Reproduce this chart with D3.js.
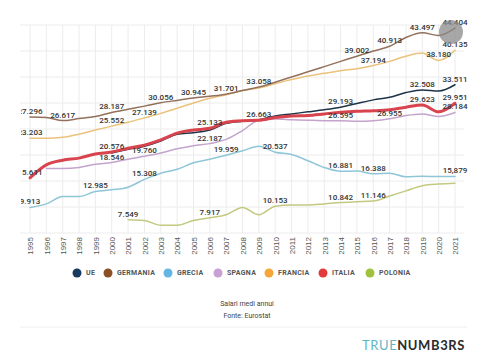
<!DOCTYPE html>
<html>
<head>
<meta charset="utf-8">
<script src="https://cdn.jsdelivr.net/npm/d3@7"></script>
<style>
	body { margin: 0; background: #fff; }
	svg { display: block; font-family: Roboto, 'Noto Sans', sans-serif; }
</style>
</head>
<body>
<div id="draw"></div>
<script>
// years on the x axis
var years = [1995, 1996, 1997, 1998, 1999, 2000, 2001, 2002, 2003, 2004, 2005, 2006, 2007,
	2008, 2009, 2010, 2011, 2012, 2013, 2014, 2015, 2016, 2017, 2018, 2019, 2020, 2021];

// average annual wages, thousands of euro (null = no data)
var ue = [null, null, null, null, null, 20.4, 21.1, 21.7, 22.7, 24.0, 24.3, 24.8, 26.1,
	26.5, 26.8, 27.5, 27.9, 28.3, 28.7, 29.193, 29.9, 30.6, 31.1, 32.0, 32.508, 32.3, 33.511];
var germania = [27.296, 27.2, 26.617, 27.0, 27.4, 28.187, 28.8, 29.4, 30.056, 30.5, 30.945, 31.3, 31.701,
	32.4, 33.058, 34.0, 35.0, 36.0, 37.0, 38.0, 39.002, 40.0, 40.913, 42.6, 43.497, 43.0, 44.404];
var grecia = [9.913, 10.6, 12.0, 12.0, 12.985, 13.3, 13.8, 15.308, 16.5, 17.25, 18.5, 19.2, 19.959,
	20.8, 21.7, 20.537, 20.1, 18.9, 17.6, 16.881, 16.9, 16.388, 16.5, 15.8, 15.9, 15.85, 15.879];
var spagna = [null, 17.4, 17.4, 17.6, 18.2, 18.546, 19.2, 19.76, 20.4, 21.2, 21.8, 22.187, 23.0,
	24.7, 26.7, 26.9, 26.8, 26.7, 26.6, 26.595, 26.5, 26.6, 26.955, 27.6, 27.9, 27.4, 28.184];
var francia = [23.203, 23.2, 23.4, 24.0, 24.8, 25.552, 26.3, 27.139, 28.0, 29.0, 30.0, 30.9, 31.6,
	32.4, 32.9, 33.7, 34.5, 35.2, 35.7, 36.2, 36.6, 37.194, 38.0, 39.0, 39.6, 38.18, 40.135];
var italia = [15.611, 18.1, 19.0, 19.4, 20.2, 20.576, 21.3, 21.9, 22.9, 24.2, 24.8, 25.133, 26.3,
	26.6, 26.663, 27.2, 27.5, 27.6, 27.9, 28.2, 28.4, 28.5, 28.7, 29.2, 29.623, 28.3, 29.951];
var polonia = [null, null, null, null, null, null, 7.549, 7.4, 6.5, 6.5, 7.4, 7.917, 8.5,
	9.9, 8.5, 10.153, 10.4, 10.4, 10.6, 10.842, 11.0, 11.146, 12.1, 13.1, 14.1, 14.4, 14.55];

// years that carry a value label
var ueLabels = [2014, 2019, 2021];
var germaniaLabels = [1995, 1997, 2000, 2003, 2005, 2007, 2009, 2015, 2017, 2019, 2021];
var greciaLabels = [1995, 1999, 2002, 2007, 2010, 2014, 2016, 2021];
var spagnaLabels = [2000, 2002, 2006, 2014, 2017, 2021];
var franciaLabels = [1995, 2000, 2002, 2016, 2020, 2021];
var italiaLabels = [1995, 2000, 2006, 2009, 2019, 2021];
var poloniaLabels = [2001, 2006, 2010, 2014, 2016];

var series = [
	{ name: 'UE', values: ue, labels: ueLabels, dot: '#173a5e', line: '#1d3348', w: 1.5 },
	{ name: 'GERMANIA', values: germania, labels: germaniaLabels, dot: '#8b4f26', line: '#93705c', w: 1.5 },
	{ name: 'GRECIA', values: grecia, labels: greciaLabels, dot: '#63b6e3', line: '#8ec6d8', w: 1.5 },
	{ name: 'SPAGNA', values: spagna, labels: spagnaLabels, dot: '#c8a0d4', line: '#c4a3cc', w: 1.5 },
	{ name: 'FRANCIA', values: francia, labels: franciaLabels, dot: '#f6a53b', line: '#ebc27c', w: 1.5 },
	{ name: 'ITALIA', values: italia, labels: italiaLabels, dot: '#e03c3c', line: '#d9434d', w: 3 },
	{ name: 'POLONIA', values: polonia, labels: poloniaLabels, dot: '#9fc13c', line: '#c3c981', w: 1.5 },
];
// drawing order: italy on top of the EU line
var drawOrder = ['POLONIA', 'GRECIA', 'SPAGNA', 'FRANCIA', 'GERMANIA', 'UE', 'ITALIA'];

var gridValues = [5, 10, 15, 20, 25, 30, 35, 40, 45];

var width = 480,
	height = 362;

var svg = d3
	.select('#draw')
	.append('svg')
	.attr('width', width)
	.attr('height', height);

var x = d3.scalePoint().domain(years).range([30, 455]);
var y = d3.scaleLinear().domain([5, 45]).range([233, 25]);

// clip so that the first labels get cut at the left edge like the original
svg
	.append('clipPath')
	.attr('id', 'plotclip')
	.append('rect')
	.attr('x', 21)
	.attr('y', 0)
	.attr('width', 459)
	.attr('height', 240);

// grid
var grid = svg.append('g');
grid
	.selectAll('.vg')
	.data(years)
	.enter()
	.append('line')
	.attr('x1', (d) => x(d))
	.attr('x2', (d) => x(d))
	.attr('y1', y(45))
	.attr('y2', y(5))
	.attr('stroke', '#ececec');
grid
	.selectAll('.hg')
	.data(gridValues)
	.enter()
	.append('line')
	.attr('x1', 20)
	.attr('x2', 464)
	.attr('y1', (d) => y(d))
	.attr('y2', (d) => y(d))
	.attr('stroke', '#ececec');

// x axis with rotated years
var xAxis = svg
	.append('g')
	.attr('transform', 'translate(0,' + y(5) + ')')
	.call(d3.axisBottom(x).tickSize(0));
xAxis.select('.domain').remove();
xAxis
	.selectAll('text')
	.attr('transform', 'rotate(-90)')
	.attr('x', -4)
	.attr('y', 0)
	.attr('dy', '0.35em')
	.style('text-anchor', 'end')
	.style('font-size', '8px')
	.style('fill', '#555');

// lines
var line = d3
	.line()
	.defined((d) => d.v != null)
	.x((d) => x(d.year))
	.y((d) => y(d.v))
	.curve(d3.curveMonotoneX);

var points = (s) => years.map((yr, i) => ({ year: yr, v: s.values[i] }));

drawOrder.forEach(function (name) {
	var s = series.find((d) => d.name === name);
	svg
		.append('path')
		.datum(points(s))
		.attr('fill', 'none')
		.attr('stroke', s.line)
		.attr('stroke-width', s.w)
		.attr('stroke-linejoin', 'round')
		.attr('stroke-linecap', 'round')
		.attr('d', line);
});

// value labels, italian number format
var it = d3.formatLocale({ decimal: ',', thousands: '.', grouping: [3], currency: ['€', ''] });
var fmt = it.format(',.0f');
var labelText = function (s, v) {
	var t = fmt(v * 1000);
	// the original shows this one with a comma
	if (s.name === 'GRECIA' && v === 15.879) t = '15,879';
	return t;
};

var labels = svg.append('g').attr('clip-path', 'url(#plotclip)');
series.forEach(function (s) {
	labels
		.selectAll(null)
		.data(s.labels)
		.enter()
		.append('text')
		.attr('x', (yr) => x(yr))
		.attr('y', (yr) => y(s.values[years.indexOf(yr)]) - 3)
		.attr('text-anchor', 'middle')
		.style('font-size', '8px')
		.style('font-weight', 500)
		.style('fill', '#333')
		.text((yr) => labelText(s, s.values[years.indexOf(yr)]));
});

// grey hover marker on the last german value
svg
	.append('circle')
	.attr('cx', x(2021) - 4)
	.attr('cy', y(germania[26]) + 4)
	.attr('r', 12)
	.attr('fill', '#8a8a8a')
	.attr('opacity', 0.75);

// legend
var legendX = [77, 108, 168, 218, 269, 323, 370];
var legend = svg
	.selectAll('.legend')
	.data(series)
	.enter()
	.append('g')
	.attr('transform', (d, i) => 'translate(' + legendX[i] + ',273)');
legend.append('circle').attr('r', 4.5).attr('fill', (d) => d.dot);
legend
	.append('text')
	.attr('x', 9)
	.attr('dy', '0.35em')
	.style('font-size', '7px')
	.style('font-weight', 700)
	.style('letter-spacing', '0.3px')
	.style('fill', '#555')
	.text((d) => d.name);

// caption
svg
	.append('text')
	.attr('x', 247)
	.attr('y', 306)
	.attr('text-anchor', 'middle')
	.style('font-size', '7px')
	.style('fill', '#444')
	.text('Salari medi annui');
svg
	.append('text')
	.attr('x', 247)
	.attr('y', 318)
	.attr('text-anchor', 'middle')
	.style('font-size', '7px')
	.style('fill', '#444')
	.text('Fonte: Eurostat');

svg
	.append('line')
	.attr('x1', 20)
	.attr('x2', 467)
	.attr('y1', 327)
	.attr('y2', 327)
	.attr('stroke', '#eeeeee');

// brand
var brand = svg
	.append('text')
	.attr('x', 465)
	.attr('y', 350)
	.attr('text-anchor', 'end')
	.style('font-family', 'Lato, sans-serif')
	.style('font-size', '13px')
	.style('letter-spacing', '0.6px');
brand.append('tspan').style('fill', '#5fb6c3').text('TRUE');
brand.append('tspan').style('fill', '#2b2b2b').style('font-weight', 700).text('NUMB3RS');
</script>
</body>
</html>
